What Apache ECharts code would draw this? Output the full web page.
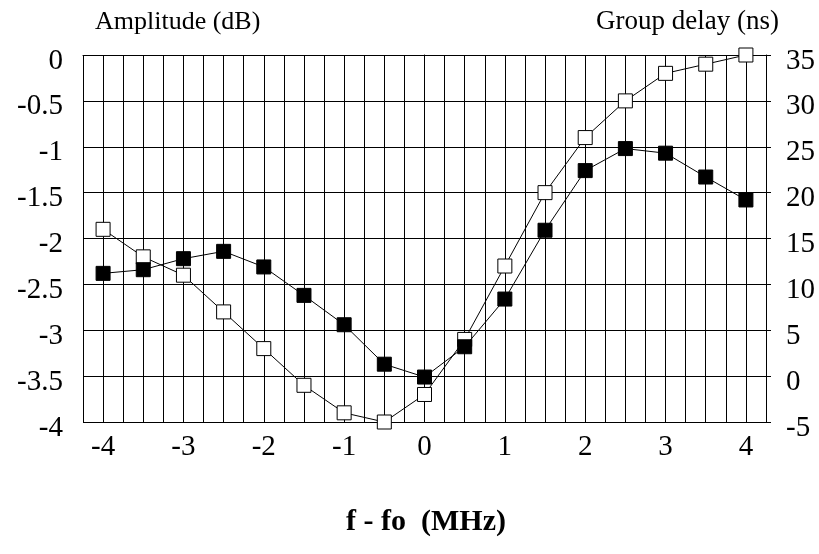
<!DOCTYPE html>
<html>
<head>
<meta charset="utf-8">
<script src="https://cdn.jsdelivr.net/npm/echarts@6/dist/echarts.min.js"></script>
<style>html,body{margin:0;padding:0;background:#fff;}#c{width:819px;height:554px;}</style>
</head>
<body>
<div id="c"></div>
<script>
var freq = [-4, -3.5, -3, -2.5, -2, -1.5, -1, -0.5, 0, 0.5, 1, 1.5, 2, 2.5, 3, 3.5, 4];
var amplitudeDb = [-1.9, -2.2, -2.4, -2.8, -3.2, -3.6, -3.9, -4.0, -3.7, -3.1, -2.3, -1.5, -0.9, -0.5, -0.2, -0.1, 0];
var groupDelayNs = [11.2, 11.6, 12.8, 13.6, 11.9, 8.8, 5.6, 1.3, -0.1, 3.2, 8.4, 15.9, 22.4, 24.8, 24.3, 21.7, 19.2];
var xTickLabels = ['-4', '-3', '-2', '-1', '0', '1', '2', '3', '4'];
var leftTitle = 'Amplitude (dB)';
var rightTitle = 'Group delay (ns)';
var xTitle = 'f - fo  (MHz)';

var font = 'Liberation Serif';
var chart = echarts.init(document.getElementById('c'), null, {renderer: 'canvas'});
function pairs(xs, ys) { return xs.map(function (x, i) { return [x, ys[i]]; }); }
chart.setOption({
  animation: false,
  backgroundColor: '#fff',
  grid: {left: 83, right: 53, top: 55, bottom: 132, containLabel: false},
  xAxis: {
    type: 'value', min: -4.25, max: 4.25, interval: 0.25,
    axisLine: {show: true, lineStyle: {color: '#000', width: 1}},
    axisTick: {show: false},
    splitLine: {show: true, lineStyle: {color: '#000', width: 1}},
    axisLabel: {
      margin: 11, color: '#000', fontFamily: font, fontSize: 29,
      formatter: function (v) {
        var r = Math.round(v);
        if (Math.abs(v - r) < 1e-6 && xTickLabels.indexOf(String(r)) >= 0) return String(r);
        return '';
      }
    }
  },
  yAxis: [{
    type: 'value', min: -4, max: 0, interval: 0.5, position: 'left',
    axisLine: {show: true, lineStyle: {color: '#000', width: 1}},
    axisTick: {show: true, length: 5, lineStyle: {color: '#000'}},
    splitLine: {show: true, lineStyle: {color: '#000', width: 1}},
    axisLabel: {margin: 20, color: '#000', fontFamily: font, fontSize: 29, verticalAlign: 'top', lineHeight: 12}
  }, {
    type: 'value', min: -5, max: 35, interval: 5, position: 'right',
    axisLine: {show: true, lineStyle: {color: '#000', width: 1}},
    axisTick: {show: true, length: 5, lineStyle: {color: '#000'}},
    splitLine: {show: false},
    axisLabel: {margin: 20, color: '#000', fontFamily: font, fontSize: 29, verticalAlign: 'top', lineHeight: 12}
  }],
  graphic: [
    {type: 'text', x: 95, y: 22, style: {text: leftTitle, font: '26px "Liberation Serif"', fill: '#000', textVerticalAlign: 'middle'}},
    {type: 'text', x: 596, y: 22, style: {text: rightTitle, font: '27px "Liberation Serif"', fill: '#000', textVerticalAlign: 'middle'}},
    {type: 'text', x: 426, y: 522, style: {text: xTitle, font: 'bold 30px "Liberation Serif"', fill: '#000', textAlign: 'center', textVerticalAlign: 'middle'}}
  ],
  series: [{
    type: 'line', yAxisIndex: 0, data: pairs(freq, amplitudeDb),
    symbol: 'rect', symbolSize: 14,
    lineStyle: {color: '#000', width: 1},
    itemStyle: {color: '#fff', borderColor: '#000', borderWidth: 1}, z: 3
  }, {
    type: 'line', yAxisIndex: 1, data: pairs(freq, groupDelayNs),
    symbol: 'rect', symbolSize: 14,
    lineStyle: {color: '#000', width: 1},
    itemStyle: {color: '#000', borderColor: '#000', borderWidth: 1}, z: 4
  }]
});
</script>
</body>
</html>
